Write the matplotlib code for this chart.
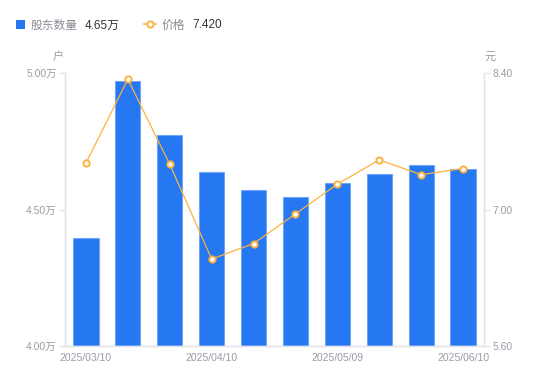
import matplotlib
matplotlib.use("Agg")
import matplotlib.pyplot as plt
from matplotlib.lines import Line2D
from matplotlib.patches import Rectangle

plt.rcParams['font.family'] = ['Liberation Sans', 'Noto Sans CJK SC', 'DejaVu Sans']

dates = ["2025/03/10", "2025/03/20", "2025/03/31", "2025/04/10", "2025/04/18",
         "2025/04/30", "2025/05/09", "2025/05/20", "2025/05/30", "2025/06/10"]
holders = [4.396, 4.972, 4.772, 4.637, 4.573, 4.546, 4.597, 4.630, 4.663, 4.648]  # 万户
price = [7.477, 8.336, 7.464, 6.492, 6.650, 6.955, 7.260, 7.509, 7.357, 7.420]
xtick_show = [0, 3, 6, 9]
left_ticks = [4.00, 4.50, 5.00]
right_ticks = [5.60, 7.00, 8.40]

bar_color = "#2677F2"
bar_edge = "#6FA6F7"
line_color = "#FDB140"
axis_color = "#E3E5EA"
tick_text = "#9A9CA6"

fig = plt.figure(figsize=(5.5, 3.81), dpi=100)
ax = fig.add_axes([65/550, 1-346/381, (484-65)/550, (346-73)/381])
ax2 = ax.twinx()

x = list(range(len(dates)))
ax.bar(x, holders, width=0.6, color=bar_color, edgecolor=bar_edge, linewidth=0.8, zorder=2)
ax.set_xlim(-0.5, len(dates)-0.5)
ax.set_ylim(4.0, 5.0)
ax2.set_ylim(5.6, 8.4)

ax2.plot(x, price, color=line_color, linewidth=0.9, marker='o', markersize=4.5,
         markerfacecolor='white', markeredgecolor=line_color, markeredgewidth=1.4, zorder=3)

for a in (ax, ax2):
    a.spines['top'].set_visible(False)
    for s in ('left', 'right', 'bottom'):
        a.spines[s].set_color(axis_color)
        a.spines[s].set_linewidth(1.0)

ax.set_yticks(left_ticks)
ax.set_yticklabels([f"{v:.2f}万" for v in left_ticks])
ax2.set_yticks(right_ticks)
ax2.set_yticklabels([f"{v:.2f}" for v in right_ticks])
ax.set_xticks([x[i] for i in xtick_show])
ax.set_xticklabels([dates[i] for i in xtick_show])

ax.tick_params(axis='y', colors=axis_color, labelcolor=tick_text, labelsize=7.5, length=4, width=1, pad=2)
ax2.tick_params(axis='y', colors=axis_color, labelcolor=tick_text, labelsize=7.5, length=4, width=1, pad=2)
ax.tick_params(axis='x', length=0, labelcolor=tick_text, labelsize=7.5, pad=5)

fig.text(58/550, 1-57/381, "户", fontsize=8, color=tick_text, ha='center', va='center')
fig.text(490/550, 1-57/381, "元", fontsize=8, color=tick_text, ha='center', va='center')

# legend
by = 1-28.5/381
fig.patches.append(Rectangle((16/550, 1-29/381), 9/550, 9/381, transform=fig.transFigure,
                             facecolor=bar_color, edgecolor='none'))
fig.text(31/550, by, "股东数量", fontsize=8.5, color="#8A8C96", ha='left', va='baseline')
fig.text(85/550, by, f"{holders[-1]:.2f}万", fontsize=8.5, color="#333333", ha='left', va='baseline')
fig.lines.append(Line2D([144/550, 156/550], [1-24/381, 1-24/381], transform=fig.transFigure,
                        color=line_color, linewidth=1.2))
fig.lines.append(Line2D([150/550], [1-24/381], transform=fig.transFigure, color=line_color,
                        marker='o', markersize=4.5, markerfacecolor='white',
                        markeredgecolor=line_color, markeredgewidth=1.4, linestyle='none'))
fig.text(162/550, by, "价格", fontsize=8.5, color="#8A8C96", ha='left', va='baseline')
fig.text(192/550, by, f"{price[-1]:.3f}", fontsize=8.5, color="#333333", ha='left', va='baseline')

fig.savefig("out.png", dpi=100)
